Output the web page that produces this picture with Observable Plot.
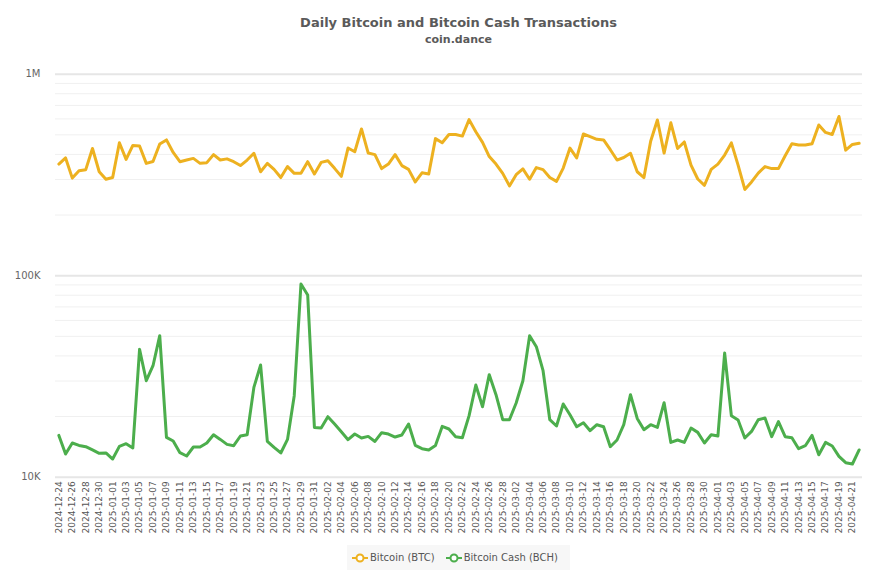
<!DOCTYPE html>
<html><head><meta charset="utf-8">
<script src="https://cdn.jsdelivr.net/npm/d3@7"></script>
<script src="https://cdn.jsdelivr.net/npm/@observablehq/plot@0.6"></script>
<style>
body{margin:0;background:#fff;font-family:"DejaVu Sans",sans-serif;}
#wrap{position:relative;width:877px;height:585px;overflow:hidden;}
#title{position:absolute;left:0;width:917px;top:15px;text-align:center;font-size:13px;font-weight:bold;color:#5a5a5a;}
#sub{position:absolute;left:0;width:917px;top:33px;text-align:center;font-size:11px;font-weight:bold;color:#5a5a5a;}
#chart{position:absolute;left:0;top:45px;}
#legend{position:absolute;left:347px;top:545px;width:223px;height:25px;background:#f7f7f7;display:flex;align-items:center;font-size:10px;color:#555;}
.item{display:flex;align-items:center;margin-left:5px;margin-right:6px;}
.item svg{margin-right:2px;}
</style></head>
<body>
<div id="wrap">
  <div id="title">Daily Bitcoin and Bitcoin Cash Transactions</div>
  <div id="sub">coin.dance</div>
  <div id="chart"></div>
  <div id="legend"></div>
</div>
<script>
const startDate = "2024-12-24";
const endDate = "2025-04-22";
const seriesNames = ["Bitcoin (BTC)", "Bitcoin Cash (BCH)"];
const seriesColors = ["#edb120", "#4cae4c"];

const btc = [358000,384000,305000,332000,336000,428000,328000,301000,307000,457000,
378000,443000,440000,361000,369000,450000,472000,409000,368000,375000,
382000,361000,364000,399000,375000,380000,368000,352000,375000,405000,
328000,361000,337000,307000,348000,322000,322000,368000,320000,365000,
372000,341000,311000,430000,412000,535000,406000,399000,340000,358000,
399000,352000,337000,292000,324000,320000,479000,457000,502000,502000,
493000,595000,518000,459000,390000,358000,322000,279000,317000,339000,
301000,344000,336000,307000,294000,342000,430000,384000,505000,490000,
475000,472000,422000,375000,386000,405000,328000,307000,465000,593000,
406000,574000,428000,461000,354000,302000,281000,337000,358000,397000,
456000,354000,268000,292000,323000,348000,340000,340000,394000,452000,
445000,445000,452000,560000,514000,502000,617000,420000,448000,454000];

const bch = [16120,13030,14780,14380,14170,13650,13130,13190,12310,14220,
14660,13960,43090,30120,35750,50380,15760,15120,13230,12740,
14120,14120,14780,16250,15400,14550,14330,16010,16250,27910,
36040,15050,14060,13190,15400,25380,90950,80230,17660,17540,
19970,18370,16820,15350,16380,15650,15940,15050,16630,16380,
15830,16200,18370,14380,13850,13650,14380,17870,17350,15890,
15700,20200,28680,22380,32270,25670,19290,19290,23340,30120,
50380,44430,33770,19290,17950,23080,20430,17810,18640,17010,
18220,17810,14170,15300,18220,25670,19580,17210,18220,17660,
23420,14880,15300,14880,17540,16690,14780,16250,16010,41340,
20200,19220,15650,16880,19290,19670,15890,18860,15890,15700,
13850,14330,16120,12930,14880,14280,12680,11800,11630,13650];

const majorTicks = [10000, 100000, 1000000];
const majorLabels = ["10K", "100K", "1M"];
const minorTicks = [20000,30000,40000,50000,60000,70000,80000,90000,
                    200000,300000,400000,500000,600000,700000,800000,900000];

const fmt = d3.utcFormat("%Y-%m-%d");
const dates = d3.utcDay.range(new Date(startDate + "T00:00Z"), d3.utcDay.offset(new Date(endDate + "T00:00Z"), 1)).map(fmt);
const labelOf = new Map(majorTicks.map((t, i) => [t, majorLabels[i]]));
const btcData = dates.map((d, i) => ({date: d, value: btc[i]}));
const bchData = dates.map((d, i) => ({date: d, value: bch[i]}));

const chart = Plot.plot({
  width: 877,
  height: 500,
  marginLeft: 55,
  marginRight: 15,
  marginTop: 28.7,
  marginBottom: 68.3,
  style: {fontFamily: "DejaVu Sans", background: "transparent"},
  x: {type: "point", domain: dates, padding: 0.5},
  y: {type: "log", domain: [10000, 1000000]},
  marks: [
    Plot.ruleY(minorTicks, {stroke: "#f0f0f0", strokeWidth: 1}),
    Plot.ruleY(majorTicks, {stroke: "#e6e6e6", strokeWidth: 2}),
    Plot.axisY(majorTicks, {tickSize: 0, tickPadding: 15, fontSize: 10, fill: "#666", tickFormat: d => labelOf.get(d), label: null}),
    Plot.axisX(dates.filter((d, i) => i % 2 === 0), {tickSize: 0, tickPadding: 4, tickRotate: -90, fontSize: 9, fill: "#555", label: null}),
    Plot.lineY(btcData, {x: "date", y: "value", stroke: seriesColors[0], strokeWidth: 3, strokeLinejoin: "round"}),
    Plot.lineY(bchData, {x: "date", y: "value", stroke: seriesColors[1], strokeWidth: 3, strokeLinejoin: "round"})
  ]
});
document.getElementById("chart").appendChild(chart);

const legend = document.getElementById("legend");
seriesNames.forEach((name, i) => {
  const item = document.createElement("div");
  item.className = "item";
  item.innerHTML = `<svg width="16" height="12"><line x1="0" x2="16" y1="6" y2="6" stroke="${seriesColors[i]}" stroke-width="2"/><circle cx="8" cy="6" r="3.5" fill="#fff" stroke="${seriesColors[i]}" stroke-width="2"/></svg><span>${name}</span>`;
  legend.appendChild(item);
});
</script>
</body></html>
